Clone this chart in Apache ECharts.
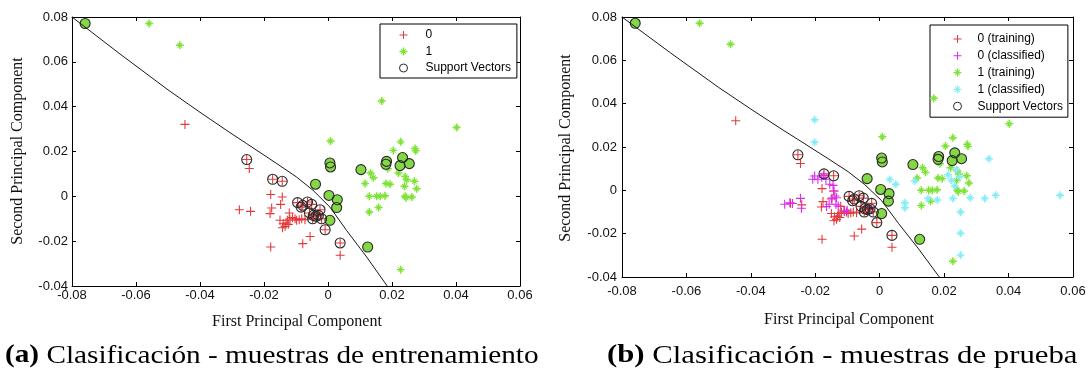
<!DOCTYPE html>
<html>
<head>
<meta charset="utf-8">
<script src="https://cdn.jsdelivr.net/npm/echarts@6/dist/echarts.min.js"></script>
<style>
html,body{margin:0;padding:0;background:#fff;}
#c{width:1090px;height:376px;}
</style>
</head>
<body>
<div id="c"></div>
<script>
// ---- tick labels ----
var xTickLabels = ['-0.08','-0.06','-0.04','-0.02','0','0.02','0.04','0.06'];
var yTickLabels = ['-0.04','-0.02','0','0.02','0.04','0.06','0.08'];

// ---- decision boundary ----
var boundary = [[-0.08,0.08],[-0.065,0.0635],[-0.05,0.0475],[-0.04,0.0375],[-0.03,0.0278],[-0.0254,0.0235],[-0.016,0.0146],[-0.0098,0.0086],[-0.0047,0.0027],[0.0006,-0.0048],[0.0058,-0.0152],[0.0121,-0.0271],[0.0185,-0.04]];

// ---- class 0 training (not support vectors) ----
var red0 = [[-0.0447,0.0321],[-0.0246,0.0124],[-0.0179,0.0008],[-0.0143,-0.0003],[-0.0148,-0.0036],[-0.0176,-0.0052],[-0.0277,-0.006],[-0.0242,-0.0067],[-0.0181,-0.0077],[-0.0121,-0.0074],[-0.015,-0.0107],[-0.0127,-0.0107],[-0.0119,-0.0101],[-0.0111,-0.0095],[-0.0103,-0.01],[-0.0098,-0.0107],[-0.009,-0.0104],[-0.0082,-0.01],[-0.0072,-0.0104],[-0.014,-0.0122],[-0.0131,-0.0119],[-0.0142,-0.014],[-0.0134,-0.0134],[-0.0124,-0.0125],[-0.0056,-0.0179],[-0.0079,-0.0211],[-0.0179,-0.0226],[0.0038,-0.0263]];
// ---- class 0 support vectors ----
var redSV = [[-0.0254,0.0164],[-0.0173,0.0076],[-0.0143,0.0067],[-0.0095,-0.0028],[-0.0079,-0.004],[-0.0084,-0.0048],[-0.0064,-0.0025],[-0.0051,-0.0036],[-0.0025,-0.006],[-0.0058,-0.0074],[-0.0046,-0.0085],[-0.0038,-0.0089],[-0.003,-0.0085],[-0.0048,-0.01],[-0.002,-0.01],[-0.0009,-0.0149],[0.0038,-0.0208]];
// ---- class 1 training (not support vectors) ----
var green1 = [[-0.0559,0.0771],[-0.0463,0.0674],[0.0168,0.0425],[0.0402,0.0307],[0.0008,0.0247],[0.0227,0.0243],[0.0204,0.0205],[0.0272,0.0213],[0.0274,0.0203],[0.0133,0.0104],[0.0142,0.0083],[0.0116,0.0057],[0.0181,0.0057],[0.0194,0.0054],[0.022,0.0104],[0.0241,0.0089],[0.0246,0.0074],[0.027,0.0067],[0.0277,0.0034],[0.0239,0.0045],[0.0129,0.0],[0.0152,0.0],[0.0163,0.0],[0.0178,0.0003],[0.0241,0.0],[0.0244,-0.0006],[0.0262,-0.0003],[0.0158,-0.005],[0.0129,-0.007],[0.0227,-0.0327],[0.0187,0.0123]];
// ---- class 1 support vectors ----
var greenSV = [[-0.0759,0.0771],[0.0006,0.0149],[0.0008,0.0131],[0.0103,0.0119],[0.0183,0.0156],[0.0181,0.0143],[0.0225,0.0137],[0.0233,0.0173],[0.0254,0.0146],[-0.0039,0.0054],[0.0003,0.0004],[0.0029,-0.0015],[0.0027,-0.005],[0.0006,-0.0107],[0.0124,-0.0226]];
// ---- test samples classified as 0 ----
var magenta0 = [[-0.0202,0.0066],[-0.0192,0.0051],[-0.018,0.006],[-0.0174,0.0069],[-0.0167,0.0051],[-0.0208,0.0051],[-0.0155,0.0028],[-0.0145,0.0023],[-0.0142,-0.0003],[-0.0139,-0.0026],[-0.015,-0.004],[-0.0134,-0.0034],[-0.0157,-0.0064],[-0.0165,-0.0075],[-0.0136,-0.0064],[-0.0129,-0.0072],[-0.0109,-0.0098],[-0.0101,-0.0092],[-0.0295,-0.0064],[-0.0279,-0.0057],[-0.0271,-0.0061],[-0.0246,-0.0037],[-0.0243,-0.0083],[-0.0031,-0.008]];
// ---- test samples classified as 1 ----
var cyan1 = [[-0.0202,0.0326],[-0.0202,0.0222],[0.0031,0.005],[0.005,0.0028],[0.0109,0.0043],[0.0078,-0.0057],[0.0078,-0.008],[0.015,-0.0038],[0.0179,-0.0045],[0.0212,0.0072],[0.0222,0.0047],[0.0238,0.0095],[0.0248,0.0063],[0.0233,0.002],[0.0227,-0.0038],[0.0281,-0.0034],[0.0326,-0.0038],[0.036,-0.0023],[0.0339,0.0146],[0.056,-0.0023],[0.0251,-0.01],[0.0251,-0.0198],[0.0251,-0.0299]];

var xMin=-0.08, xMax=0.06, xStep=0.02, yMin=-0.04, yMax=0.08, yStep=0.02;

var PLUS = 'path://M0,4.4H4.4V0H5.6V4.4H10V5.6H5.6V10H4.4V5.6H0Z';
var STAR = 'path://M0,4.1H4.1V0H5.9V4.1H10V5.9H5.9V10H4.1V5.9H0Z M2.42,1.58L8.42,7.58L7.58,8.42L1.58,2.42Z M8.42,2.42L2.42,8.42L1.58,7.58L7.58,1.58Z';

var RED='#e23a3a', GREEN='#7fe236', GREENSV='#84d845', MAG='#dc28ee', CYAN='#86ecf6', SVC='#2a2a2a';
var SANS='Liberation Sans', SERIF='Liberation Serif';

function xFmt(v){return xTickLabels[Math.round((v-xMin)/xStep)];}
function yFmt(v){return yTickLabels[Math.round((v-yMin)/yStep)];}

function mkX(grid, pos, show, margin){
  return {type:'value', gridIndex:grid, position:pos, min:xMin, max:xMax, interval:xStep,
    axisLine:{show:true, onZero:false, lineStyle:{color:'#000', width:1}},
    axisTick:{show:true, inside:true, length:4, lineStyle:{color:'#000'}},
    axisLabel:{show:show, margin:margin, formatter:xFmt, color:'#111', fontFamily:SANS, fontSize:13, showMinLabel:true, showMaxLabel:true},
    splitLine:{show:false}};
}
function mkY(grid, pos, show, margin){
  return {type:'value', gridIndex:grid, position:pos, min:yMin, max:yMax, interval:yStep,
    axisLine:{show:true, onZero:false, lineStyle:{color:'#000', width:1}},
    axisTick:{show:true, inside:true, length:4, lineStyle:{color:'#000'}},
    axisLabel:{show:show, margin:margin, formatter:yFmt, color:'#111', fontFamily:SANS, fontSize:13, showMinLabel:true, showMaxLabel:true},
    splitLine:{show:false}};
}

function sc(name, data, xi, yi, symbol, size, color, z){
  return {type:'scatter', name:name, data:data, xAxisIndex:xi, yAxisIndex:yi, symbol:symbol, symbolSize:size,
    itemStyle:{color:color, opacity:1}, z:z, silent:true};
}
function svSeries(data, xi, yi){
  return {type:'scatter', name:'Support Vectors', data:data, xAxisIndex:xi, yAxisIndex:yi, symbol:'circle', symbolSize:10,
    itemStyle:{color:'rgba(0,0,0,0)', borderColor:SVC, borderWidth:1.1, opacity:1}, z:6, silent:true};
}
function svFill(data, xi, yi){
  return {type:'scatter', name:'svfill', data:data, xAxisIndex:xi, yAxisIndex:yi, symbol:'circle', symbolSize:10,
    itemStyle:{color:GREENSV, opacity:1}, z:5, silent:true};
}
function line(xi, yi){
  return {type:'line', name:'boundary', data:boundary, xAxisIndex:xi, yAxisIndex:yi, showSymbol:false, symbol:'none',
    lineStyle:{color:'#1a1a1a', width:1}, z:7, silent:true, clip:true};
}

var legendText = {color:'#000', fontFamily:SANS, fontSize:12};
var svIcon = {name:'Support Vectors', icon:'circle', itemStyle:{color:'rgba(0,0,0,0)', borderColor:SVC, borderWidth:1}};

var option = {
  animation:false,
  backgroundColor:'#fff',
  grid:[
    {left:72, top:17, width:448, height:269},
    {left:622, top:17, width:451, height:260}
  ],
  xAxis:[mkX(0,'bottom',true,3), mkX(0,'top',false,3), mkX(1,'bottom',true,8), mkX(1,'top',false,8)],
  yAxis:[mkY(0,'left',true,4), mkY(0,'right',false,4), mkY(1,'left',true,5), mkY(1,'right',false,5)],
  legend:[
    {orient:'vertical', left:380, top:24, padding:[5,6,4,19], itemWidth:34, itemHeight:8, itemGap:4.5,
     borderColor:'#000', borderWidth:1, backgroundColor:'#fff', textStyle:legendText, selectedMode:false,
     data:[{name:'0', icon:PLUS, itemStyle:{color:RED}}, {name:'1', icon:STAR, itemStyle:{color:GREEN}}, svIcon]},
    {orient:'vertical', left:930, top:25, padding:[8,5,5,23], itemWidth:30, itemHeight:8, itemGap:4.8,
     borderColor:'#000', borderWidth:1, backgroundColor:'#fff', textStyle:legendText, selectedMode:false,
     data:[{name:'0 (training)', icon:PLUS, itemStyle:{color:RED}}, {name:'0 (classified)', icon:PLUS, itemStyle:{color:MAG}},
           {name:'1 (training)', icon:STAR, itemStyle:{color:GREEN}}, {name:'1 (classified)', icon:STAR, itemStyle:{color:CYAN}}, svIcon]}
  ],
  series:[
    // left plot
    sc('0', red0.concat(redSV), 0, 0, PLUS, 9, RED, 3),
    sc('1', green1, 0, 0, STAR, 8, GREEN, 4),
    svFill(greenSV, 0, 0),
    svSeries(redSV.concat(greenSV), 0, 0),
    line(0, 0),
    // right plot
    sc('0 (training)', red0.concat(redSV), 2, 2, PLUS, 9, RED, 3),
    sc('0 (classified)', magenta0, 2, 2, PLUS, 9, MAG, 3),
    sc('1 (training)', green1, 2, 2, STAR, 8, GREEN, 4),
    sc('1 (classified)', cyan1, 2, 2, STAR, 8, CYAN, 4),
    svFill(greenSV, 2, 2),
    svSeries(redSV.concat(greenSV), 2, 2),
    line(2, 2)
  ],
  graphic:[
    {type:'text', x:18, y:151, rotation:Math.PI/2, style:{text:'Second Principal Component', fontFamily:SERIF, fontSize:16, fill:'#111', textAlign:'center', textVerticalAlign:'middle'}},
    {type:'text', x:566, y:148, rotation:Math.PI/2, style:{text:'Second Principal Component', fontFamily:SERIF, fontSize:16, fill:'#111', textAlign:'center', textVerticalAlign:'middle'}},
    {type:'text', x:297, y:322, style:{text:'First Principal Component', fontFamily:SERIF, fontSize:16, fill:'#111', textAlign:'center', textVerticalAlign:'middle'}},
    {type:'text', x:849, y:320, style:{text:'First Principal Component', fontFamily:SERIF, fontSize:16, fill:'#111', textAlign:'center', textVerticalAlign:'middle'}},
    {type:'text', x:5, y:356, scaleX:1.17, style:{text:'{b|(a)} Clasificación - muestras de entrenamiento', fontFamily:SERIF, fontSize:25, fill:'#000', textAlign:'left', textVerticalAlign:'middle',
      rich:{b:{fontFamily:SERIF, fontSize:25, fontWeight:'bold', fill:'#000'}}}},
    {type:'text', x:607, y:356, scaleX:1.23, style:{text:'{b|(b)} Clasificación - muestras de prueba', fontFamily:SERIF, fontSize:25, fill:'#000', textAlign:'left', textVerticalAlign:'middle',
      rich:{b:{fontFamily:SERIF, fontSize:25, fontWeight:'bold', fill:'#000'}}}}
  ]
};
var chart = echarts.init(document.getElementById('c'), null, {renderer:'canvas'});
chart.setOption(option);
</script>
</body>
</html>
